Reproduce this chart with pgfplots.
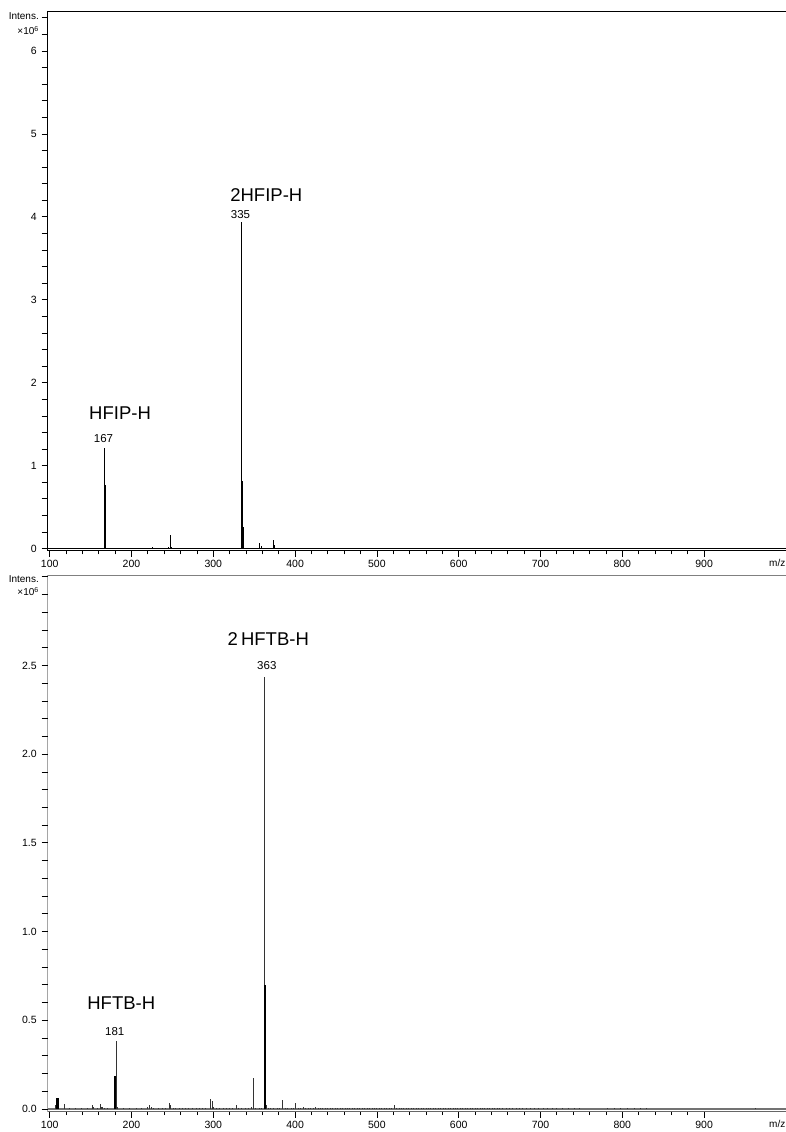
\documentclass[border=0pt]{standalone}
\usepackage{fontspec}
\setmainfont{Liberation Sans}
\usepackage{pgfplots}
\usepackage{pgfplotstable}
\pgfplotsset{compat=1.18}

% ---------- spectrum 1: HFIP (intensity in 10^6) ----------
\pgfplotstableread{
mz    I
142   0.005
146   0.010
154.5 0.010
167   1.214
169.5 0.008
206   0.010
211.5 0.010
223   0.012
225.5 0.015
234.5 0.008
245.5 0.020
247   0.160
248.5 0.015
335   3.940
337.5 0.010
357   0.065
358.5 0.030
373   0.105
374.5 0.040
379.5 0.012
395   0.005
413   0.010
417   0.010
522   0.006
535   0.006
}\hfipthin
\pgfplotstableread{
mz    I
167.6 0.770
334.8 0.810
336.6 0.265
}\hfipthick

% ---------- spectrum 2: HFTB (intensity in 10^6) ----------
\pgfplotstableread{
mz    I
107.5 0.022
110.6 0.055
111.3 0.030
117.5 0.027
124 0.004
131 0.004
139 0.004
146 0.005
152 0.020
153 0.012
158 0.004
162 0.028
163 0.014
165 0.010
167 0.008
170 0.005
181 0.383
182.5 0.012
190 0.004
198 0.004
206 0.006
212 0.004
220 0.012
222 0.020
224 0.014
227 0.006
233 0.005
238 0.006
242 0.005
246.5 0.036
248 0.022
251 0.008
254 0.005
258 0.006
262 0.005
266 0.004
270 0.005
274 0.006
279 0.005
283 0.004
287 0.006
291 0.005
296.8 0.055
298.8 0.045
300.5 0.010
304 0.006
308 0.005
312 0.006
316 0.005
320 0.004
324 0.005
328.6 0.020
331 0.008
335 0.005
339 0.006
343 0.005
347 0.010
349 0.173
352 0.008
356 0.005
359 0.006
363 2.437
364.8 0.020
367 0.008
370 0.006
374 0.005
378 0.006
381 0.005
385 0.053
388 0.006
391 0.005
395 0.006
398 0.005
401 0.035
404 0.006
407 0.005
410 0.012
413 0.008
416 0.005
419 0.006
422 0.005
425 0.012
428 0.006
431 0.005
434 0.006
437 0.005
440 0.008
443 0.005
446 0.006
449 0.005
452 0.006
455 0.004
458 0.006
461 0.005
464 0.004
467 0.006
470 0.005
473 0.004
476 0.006
479 0.005
482 0.004
485 0.006
488 0.005
491 0.004
494 0.005
497 0.006
500 0.005
503 0.004
506 0.006
509 0.005
512 0.004
515 0.005
518 0.006
521.5 0.024
524 0.006
527 0.005
530 0.004
533 0.005
536 0.006
539 0.008
542 0.005
545 0.006
548 0.004
551 0.007
554 0.005
557 0.004
560 0.006
563 0.005
566 0.004
569 0.005
572 0.006
575 0.004
578 0.005
581 0.004
584 0.006
587 0.005
590 0.004
593 0.005
596 0.004
599 0.006
602 0.005
605 0.004
608 0.007
611 0.005
614 0.004
617 0.005
620 0.006
623 0.004
626 0.005
629 0.004
632 0.005
635 0.006
638 0.004
641 0.005
644 0.004
647 0.005
650 0.004
654 0.005
658 0.004
662 0.005
666 0.004
670 0.005
674 0.004
678 0.005
683 0.004
688 0.005
693 0.004
698 0.005
703 0.004
708 0.004
714 0.004
720 0.005
727 0.004
734 0.004
741 0.004
748 0.004
782 0.004
790 0.004
798 0.004
806 0.004
815 0.004
822 0.004
830 0.004
963 0.006
}\hftbthin
\pgfplotstableread{
mz    I
108.6 0.062
109.6 0.060
180.0 0.188
362.6 0.700
}\hftbthick

\pgfplotsset{
  msaxis/.style={
    scale only axis,
    width=752.3pt,
    xmin=97.55, xmax=1017.2,
    tick align=outside,
    tick pos=left,
    xtick={100,200,...,900},
    minor x tick num=4,
    major tick length=6pt,
    minor tick length=3.5pt,
    tick style={black, line width=0.8pt},
    ticklabel style={font=\fontsize{10.5}{12}\selectfont},
    yticklabel style={xshift=-1.5pt},
    /pgf/number format/assume math mode=true,
    /pgf/number format/1000 sep={},
  },
}
\tikzset{
  peaklab/.style={font=\fontsize{11.5}{13}\selectfont, anchor=base},
  ionlab/.style={font=\fontsize{18.5}{22}\selectfont, anchor=base},
  axlab/.style={font=\fontsize{10}{12}\selectfont, anchor=base east, inner sep=0pt},
  mzlab/.style={font=\fontsize{10}{12}\selectfont, anchor=base east, inner sep=0pt},
}

\begin{document}
\begin{tikzpicture}
% ================= upper spectrum =================
\begin{axis}[msaxis,
  at={(47.7pt,581pt)}, anchor=south west,
  height=539pt,
  ymin=-0.028, ymax=6.47,
  axis line style={black, line width=1pt},
  ytick={0,0.2,0.4,0.6,0.8,1,1.2,1.4,1.6,1.8,2,2.2,2.4,2.6,2.8,3,3.2,3.4,3.6,3.8,4,4.2,4.4,4.6,4.8,5,5.2,5.4,5.6,5.8,6,6.2,6.4},
  yticklabels={0,,,,,1,,,,,2,,,,,3,,,,,4,,,,,5,,,,,6,,},
]
\addplot[black, line width=1pt] coordinates {(97.55,0) (1017.2,0)};
\addplot[ycomb, black, line width=0.9pt, no markers] table[x=mz, y=I] {\hfipthin};
\addplot[ycomb, black, line width=2pt, no markers] table[x=mz, y=I] {\hfipthick};
\node[peaklab] at (axis cs:165.8,1.274) {167};
\node[peaklab] at (axis cs:333.2,3.981) {335};
\node[ionlab]  at (axis cs:186,1.561) {HFIP-H};
\node[ionlab]  at (axis cs:364.8,4.186) {2HFIP-H};
\end{axis}
\node[mzlab] at (785.5pt,565.2pt) {m/z};
\node[axlab] at (39pt,1112.5pt) {Intens.};
\node[axlab] at (39pt,1097pt) {×10\textsuperscript{6}};

% ================= lower spectrum =================
\begin{axis}[msaxis,
  at={(47.7pt,20.3pt)}, anchor=south west,
  height=536.2pt,
  ymin=-0.015, ymax=3.007,
  axis line style={draw=none},
  ytick={0,0.1,0.2,0.3,0.4,0.5,0.6,0.7,0.8,0.9,1,1.1,1.2,1.3,1.4,1.5,1.6,1.7,1.8,1.9,2,2.1,2.2,2.3,2.4,2.5,2.6,2.7,2.8,2.9,3},
  yticklabels={0.0,,,,,0.5,,,,,1.0,,,,,1.5,,,,,2.0,,,,,2.5,,,,,},
]
\draw[black, line width=1pt] (rel axis cs:0,0) -- (rel axis cs:0,1);
\draw[black!50, line width=1.6pt] (rel axis cs:0,1) -- (rel axis cs:1,1);
\draw[black!60, line width=1pt] (rel axis cs:0,0) -- (rel axis cs:1,0);
\addplot[black!55, line width=1.2pt] coordinates {(97.55,0) (1017.2,0)};
\addplot[ycomb, black!80, line width=0.9pt, no markers] table[x=mz, y=I] {\hftbthin};
\addplot[ycomb, black, line width=2pt, no markers] table[x=mz, y=I] {\hftbthick};
\node[peaklab] at (axis cs:179.5,0.417) {181};
\node[peaklab] at (axis cs:365.4,2.477) {363};
\node[ionlab]  at (axis cs:187.5,0.561) {HFTB-H};
\node[ionlab]  at (axis cs:367.2,2.613) {2\,HFTB-H};
\end{axis}
\node[mzlab] at (785.5pt,4.5pt) {m/z};
\node[axlab] at (39pt,549pt) {Intens.};
\node[axlab] at (39pt,536pt) {×10\textsuperscript{6}};

\pgfresetboundingbox
\useasboundingbox (0pt,0pt) rectangle (786pt,1132pt);
\end{tikzpicture}
\end{document}
